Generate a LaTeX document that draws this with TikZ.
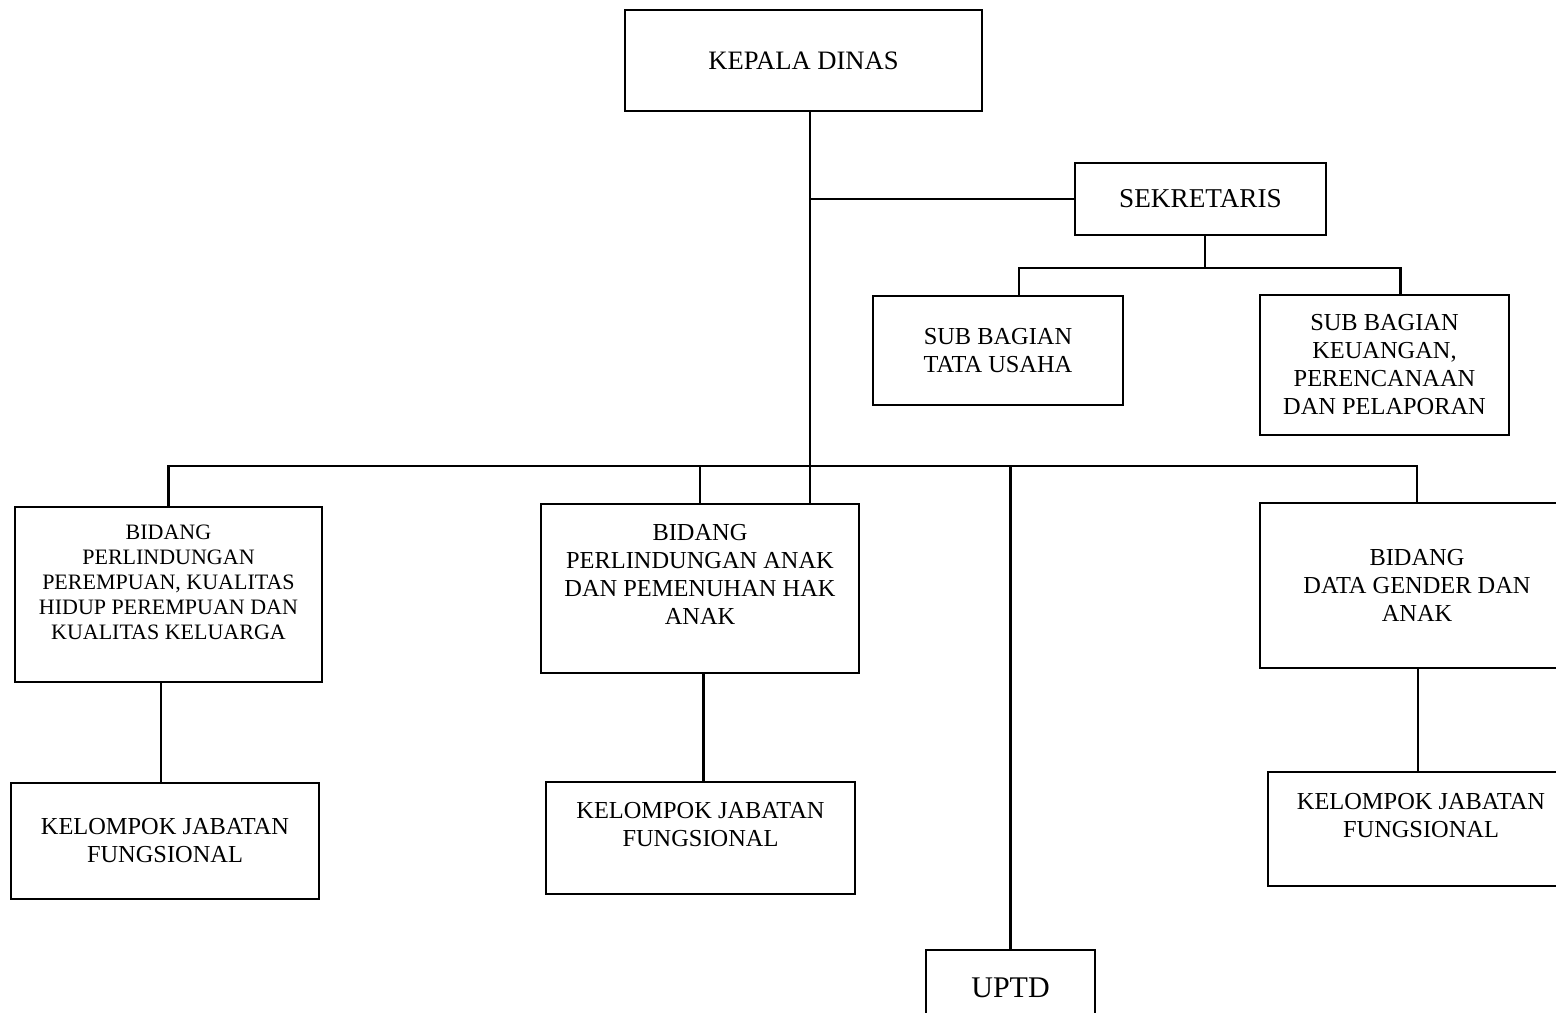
\documentclass[tikz,border=0pt]{standalone}
\usepackage{fontspec}
\setmainfont{Liberation Serif}
\usetikzlibrary{calc}

\begin{document}
\begin{tikzpicture}[
  x=0.5pt,
  y=-0.5pt,
  box/.style={draw, line width=0.9pt, align=center, inner sep=2pt, font=\fontsize{12.2}{14}\selectfont},
  link/.style={line width=1.2pt}
]
  \useasboundingbox (0,0) rectangle (1556,1012);

  \node[box, minimum width=178.5pt, minimum height=50.5pt, font=\fontsize{13.3}{16}\selectfont] (kd) at (803.5,60.5) {KEPALA DINAS};
  \node[box, minimum width=125.5pt, minimum height=36pt, font=\fontsize{13.6}{16}\selectfont] (sek) at (1200.5,199) {SEKRETARIS};
  \node[box, minimum width=125pt, minimum height=54.5pt] (tu) at (998,350.5) {SUB BAGIAN\\TATA USAHA};
  \node[box, minimum width=124.5pt, minimum height=70pt] (keu) at (1384.5,365) {SUB BAGIAN\\KEUANGAN,\\PERENCANAAN\\DAN PELAPORAN};

  \node[box, minimum width=153.5pt, minimum height=87.5pt, font=\fontsize{11}{12.5}\selectfont] (b1) at (168.5,594.5) {BIDANG\\PERLINDUNGAN\\PEREMPUAN, KUALITAS\\HIDUP PEREMPUAN DAN\\KUALITAS KELUARGA\\ \mbox{}};
  \node[box, minimum width=159pt, minimum height=84.5pt] (b2) at (700,588.5) {BIDANG\\PERLINDUNGAN ANAK\\DAN PEMENUHAN HAK\\ANAK\\ \mbox{}};
  \node[box, minimum width=157pt, minimum height=82.5pt] (b3) at (1417,585.5) {BIDANG\\DATA GENDER DAN\\ANAK};

  \node[box, minimum width=154pt, minimum height=58pt] (k1) at (165,841) {KELOMPOK JABATAN\\FUNGSIONAL};
  \node[box, minimum width=154.5pt, minimum height=56pt] (k2) at (700.5,838) {KELOMPOK JABATAN\\FUNGSIONAL\\ \mbox{}};
  \node[box, minimum width=153pt, minimum height=57pt] (k3) at (1421,829) {KELOMPOK JABATAN\\FUNGSIONAL\\ \mbox{}};

  \node[box, minimum width=84.5pt, minimum height=37.5pt, font=\fontsize{15}{18}\selectfont] (uptd) at (1010.5,987.5) {UPTD};

  \coordinate (jsek) at (810,199);
  \coordinate (jsub) at (1205,268);
  \coordinate (bus) at (810,466);

  \draw[link] (kd.south -| jsek) -- (b2.north -| jsek);
  \draw[link] (jsek) -- (sek.west);
  \draw[link] (sek.south -| jsub) -- (jsub);
  \draw[link] ([xshift=10.5pt]tu.north) |- (jsub) -| ([xshift=8pt]keu.north);

  \draw[link] (b1.north) |- (bus) -| (b3.north);
  \draw[link] (b2.north) -- (b2.north |- bus);
  \draw[link] (uptd.north) -- (uptd.north |- bus);

  \draw[link] ([xshift=-2pt]k1.north) -- ([xshift=-2pt]k1.north |- b1.south);
  \draw[link] ([xshift=1.5pt]k2.north) -- ([xshift=1.5pt]k2.north |- b2.south);
  \draw[link] ([xshift=-1.5pt]k3.north) -- ([xshift=-1.5pt]k3.north |- b3.south);
\end{tikzpicture}
\end{document}
